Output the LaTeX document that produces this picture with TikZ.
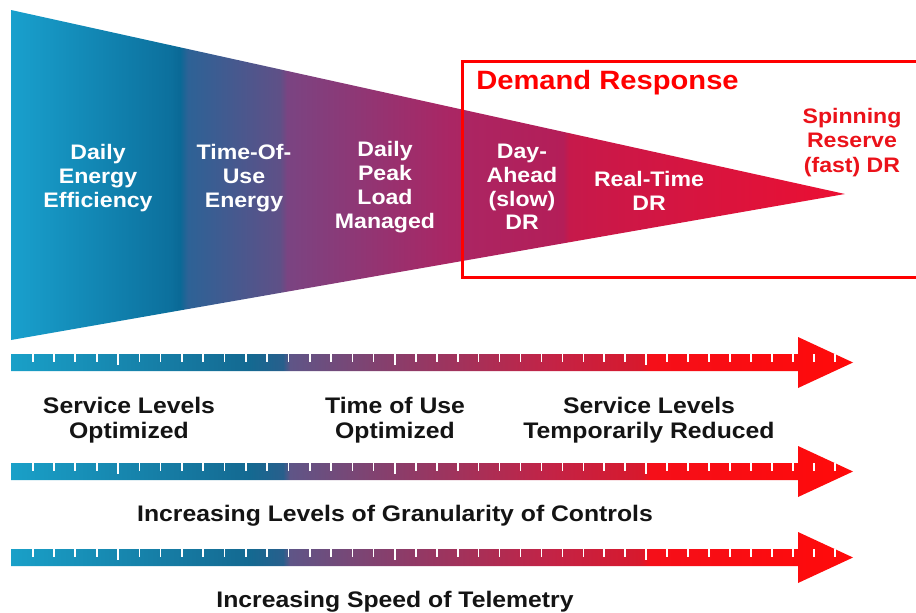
\documentclass[tikz,border=0pt]{standalone}
\usepackage{fontspec}
\setmainfont{Liberation Sans}[FakeStretch=1.1]
\definecolor{f0}{RGB}{25,160,205}
\definecolor{f1}{RGB}{12,112,157}
\definecolor{f2}{RGB}{10,105,150}
\definecolor{f3}{RGB}{45,98,150}
\definecolor{f4}{RGB}{95,80,135}
\definecolor{f5}{RGB}{122,68,130}
\definecolor{f6}{RGB}{170,38,100}
\definecolor{f7}{RGB}{180,30,88}
\definecolor{f8}{RGB}{198,25,75}
\definecolor{f9}{RGB}{235,15,50}
\definecolor{a0}{RGB}{25,160,200}
\definecolor{a1}{RGB}{20,105,145}
\definecolor{a2}{RGB}{40,95,140}
\definecolor{a3}{RGB}{95,85,135}
\definecolor{a4}{RGB}{140,60,105}
\definecolor{a5}{RGB}{195,35,70}
\definecolor{a6}{RGB}{215,25,45}
\definecolor{a7}{RGB}{245,15,25}
\definecolor{a8}{RGB}{255,10,10}
\definecolor{drred}{RGB}{235,18,26}
\definecolor{boxred}{RGB}{255,0,0}
\definecolor{ink}{RGB}{20,20,20}
\pgfdeclarehorizontalshading{funnel}{100bp}{color(0bp)=(f0); color(25bp)=(f0); color(34.53bp)=(f1); color(35.13bp)=(f2); color(35.6bp)=(f3); color(41.13bp)=(f4); color(41.55bp)=(f5); color(51.32bp)=(f6); color(58.09bp)=(f7); color(58.45bp)=(f8); color(75bp)=(f9); color(100bp)=(f9)}
\pgfdeclarehorizontalshading{arrowshade}{100bp}{color(0bp)=(a0); color(25bp)=(a0); color(39.19bp)=(a1); color(41.15bp)=(a2); color(41.57bp)=(a3); color(48.10bp)=(a4); color(57.0bp)=(a5); color(62.35bp)=(a6); color(62.95bp)=(a7); color(75bp)=(a8); color(100bp)=(a8)}
\tikzset{
  lbl/.style={text=white, font=\bfseries\fontsize{21}{23.8}\selectfont, align=center, inner sep=0pt},
  blk/.style={text=ink, font=\bfseries\fontsize{22.5}{25}\selectfont, align=center, inner sep=0pt},
  redlbl/.style={text=drred, font=\bfseries\fontsize{21}{24.5}\selectfont, align=center, inner sep=0pt},
  tick/.style={draw=white, line width=1.5pt},
  longtick/.style={draw=white, line width=2pt},
}
\begin{document}
\begin{tikzpicture}[x=1pt,y=-1pt]
\useasboundingbox (0,0) rectangle (916,613);
\fill[white] (0,0) rectangle (916,613);
% funnel
\shade[shading=funnel] (11,10) -- (845,194) -- (11,340) -- cycle;
% demand response box
\draw[boxred, line width=3pt] (920,61) -- (462,61) -- (462,277) -- (920,277);
\node[text=boxred, font=\bfseries\fontsize{26.5}{28}\selectfont, inner sep=0pt] (dr) at (607.5,83) {Demand Response};
% funnel labels
\node[lbl] (dee) at (98,178) {Daily\\Energy\\Efficiency};
\node[lbl] (tou) at (244,178) {Time-Of-\\Use\\Energy};
\node[lbl] (dpl) at (385,187) {Daily\\Peak\\Load\\Managed};
\node[lbl] (dad) at (522,187) {Day-\\Ahead\\(slow)\\DR};
\node[lbl] (rtd) at (649,190.5) {Real-Time\\DR};
\node[redlbl] (spin) at (852,142.5) {Spinning\\Reserve\\(fast) DR};
% arrows
\foreach \yc in {362.5,471.5,557.5} {
  \shade[shading=arrowshade] (11,\yc-8.5) -- (798,\yc-8.5) -- (798,\yc-25.5) -- (853,\yc) -- (798,\yc+25.5) -- (798,\yc+8.5) -- (11,\yc+8.5) -- cycle;
  \foreach \tx in {33,54,75,97,139.3,160.6,181.9,203.2,224.5,245.8,267.2,288.5,309.8,331.1,352.4,373.7,415.9,436.8,457.8,478.7,499.6,520.5,541.4,562.3,583.3,604.2,625.1,667,688,709,730,751,772,793,814,835}
    \draw[tick] (\tx,\yc-8.5) -- (\tx,\yc-1);
  \foreach \tx in {118,395,646}
    \draw[longtick] (\tx,\yc-8.5) -- (\tx,\yc+2.5);
}
% bottom labels
\node[blk] (slo) at (129,420.5) {Service Levels\\Optimized};
\node[blk] (tuo) at (395,420.5) {Time of Use\\Optimized};
\node[blk] (slr) at (649,420.5) {Service Levels\\Temporarily Reduced};
\node[blk] (gran) at (395,516) {Increasing Levels of Granularity of Controls};
\node[blk] (tele) at (395,602) {Increasing Speed of Telemetry};
\end{tikzpicture}
\end{document}
